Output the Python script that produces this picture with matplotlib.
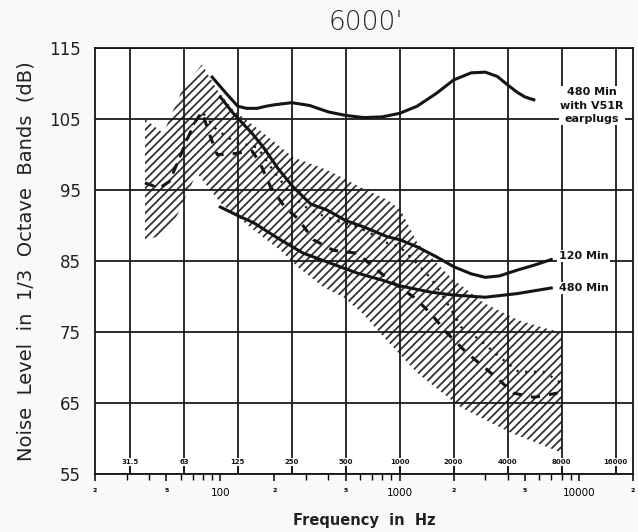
import matplotlib
matplotlib.use("Agg")
import matplotlib.pyplot as plt
import numpy as np

# ---- data ----
octave_freqs = [31.5, 63, 125, 250, 500, 1000, 2000, 4000, 8000, 16000]
octave_labels = ["31.5", "63", "125", "250", "500", "1000", "2000", "4000", "8000", "16000"]
y_ticks = [55, 65, 75, 85, 95, 105, 115]

# hatched range (upper edge left->right, lower edge right->left)
band_upper_f = [38, 48, 62, 79, 96, 118, 174, 255, 361, 427, 604, 856, 1012, 1258, 1924, 2945, 4556, 6966, 8000]
band_upper_db = [105, 103, 109.4, 112.7, 109.1, 106.3, 103, 99.6, 98.2, 97.4, 95.4, 93.6, 92.2, 87.5, 82.7, 79.1, 76.7, 75.3, 75]
band_lower_f = [8000, 4163, 2188, 1258, 813, 628, 486, 376, 269, 216, 153, 100, 74, 54, 46, 38]
band_lower_db = [58, 60.8, 64.4, 69.2, 74.3, 77.5, 79.9, 81.3, 84.2, 86.5, 89.4, 93.2, 97.4, 90, 88.5, 88]

# 480 min with V51R earplugs
plug_f = [90, 107, 125, 140, 160, 180, 200, 250, 315, 400, 500, 630, 800, 1000, 1250, 1600, 2000, 2500, 3000, 3500, 4000, 4500, 5000, 5600]
plug_db = [110.9, 108.7, 106.8, 106.5, 106.5, 106.8, 107.0, 107.3, 106.9, 106.0, 105.5, 105.2, 105.3, 105.8, 106.8, 108.6, 110.5, 111.5, 111.6, 111.0, 109.8, 108.8, 108.1, 107.7]

# 120 min
m120_f = [100, 118, 150, 174, 210, 255, 320, 392, 500, 630, 856, 1000, 1250, 1600, 2000, 2500, 3000, 3600, 4500, 5600, 7000]
m120_db = [108.1, 105.8, 103, 101, 98, 95.4, 93, 92.2, 90.7, 89.8, 88.4, 88, 87, 85.6, 84.2, 83.2, 82.7, 82.9, 83.7, 84.4, 85.2]

# 480 min
m480_f = [100, 125, 153, 216, 290, 410, 580, 800, 1000, 1500, 2000, 3000, 4500, 7000]
m480_db = [92.6, 91.4, 90.4, 88, 86.1, 84.7, 83.3, 82.3, 81.5, 80.6, 80.2, 79.9, 80.4, 81.2]

# measured spectra (dashed and dotted)
dash_f = [38, 42, 46, 52, 58, 65, 72, 79, 88, 96, 110, 125, 150, 165, 190, 230, 270, 330, 427, 580, 750, 924, 1200, 1480, 1830, 2380, 2940, 3600, 4300, 5600, 7600]
dash_db = [96, 95.6, 95.3, 96.2, 99, 102, 104.5, 106, 102.5, 100, 100, 100.2, 100.5, 99, 95.5, 92.5, 91, 88, 86.5, 86.1, 83.7, 81.9, 79.9, 77.7, 74.9, 72, 70.1, 68.2, 66.4, 65.8, 66.4]
dot_f = [38, 42, 46, 52, 58, 65, 72, 79, 95, 120, 161, 200, 255, 300, 340, 427, 580, 690, 856, 1000, 1200, 1500, 1800, 2200, 2800, 3600, 4600, 6300, 7600, 8000]
dot_db = [96, 95.6, 95.3, 96.2, 99, 102, 104.5, 106, 103.5, 101.8, 101, 97.5, 94, 92.6, 91.8, 90.8, 89.8, 88.9, 87.5, 87, 85.1, 82.5, 79.5, 75.7, 73.9, 71.5, 69.4, 69.4, 68.2, 67.5]

plt.rcParams['hatch.linewidth'] = 1.3
plt.rcParams['hatch.color'] = '#333333'

fig = plt.figure(figsize=(6.38, 5.32), dpi=100, facecolor='#f9f9f7')
ax = fig.add_axes([95/638, 58/532, 538/638, 426/532])
ax.set_facecolor('white')
ax.set_xscale('log')
ax.set_xlim(20, 20000)
ax.set_ylim(55, 115)

# hatched band
ax.fill(band_upper_f + band_lower_f, band_upper_db + band_lower_db,
        facecolor='none', edgecolor='#333333', hatch='////', linewidth=0, zorder=1)

# grid at octave centres and every 10 dB
for f in octave_freqs:
    ax.axvline(f, color='#1a1a1a', lw=1.3, zorder=2)
for y in y_ticks:
    ax.axhline(y, color='#1a1a1a', lw=1.3, zorder=2)

ax.plot(plug_f, plug_db, color='#151515', lw=2.2, zorder=4)
ax.plot(m120_f, m120_db, color='#151515', lw=2.2, zorder=4)
ax.plot(m480_f, m480_db, color='#151515', lw=2.2, zorder=4)
ax.plot(dash_f, dash_db, color='#151515', lw=2.2, ls=(0, (3, 3)), zorder=4)
ax.plot(dot_f, dot_db, color='#151515', lw=1.6, ls=(0, (1, 3)), zorder=4)

lbl = dict(fontsize=8, fontweight='bold', color='#151515', zorder=6,
           bbox=dict(facecolor='white', edgecolor='none', pad=1.0))
ax.text(11800, 106.9, "480 Min\nwith V51R\nearplugs", ha='center', va='center', linespacing=1.45, **lbl)
ax.text(7700, 85.7, "120 Min", ha='left', va='center', **lbl)
ax.text(7700, 81.2, "480 Min", ha='left', va='center', **lbl)

# octave labels inside the frame
for f, s in zip(octave_freqs, octave_labels):
    ax.text(f, 56.7, s, ha='center', va='center', fontsize=5, fontweight='bold',
            color='#151515', zorder=6, bbox=dict(facecolor='white', edgecolor='none', pad=0.6))
sec = ax.secondary_xaxis('bottom')
sec.set_xticks(octave_freqs)
sec.set_xticklabels([])
sec.tick_params(direction='in', length=8, width=1.2, color='#151515')
sec.xaxis.set_minor_locator(matplotlib.ticker.NullLocator())
sec.spines['bottom'].set_visible(False)

# decade ticks below the axis
major = [20, 50, 100, 200, 500, 1000, 2000, 5000, 10000, 20000]
major_lbl = ["2", "5", "100", "2", "5", "1000", "2", "5", "10000", "2"]
minor = [30, 40, 60, 70, 80, 90, 300, 400, 600, 700, 800, 900, 3000, 4000, 6000, 7000, 8000, 9000]
ax.set_xticks(major)
ax.set_xticklabels(major_lbl)
ax.set_xticks(minor, minor=True)
ax.tick_params(axis='x', which='major', direction='out', length=5, width=1.1, pad=5, labelsize=7.5)
ax.tick_params(axis='x', which='minor', direction='out', length=4, width=1.0, labelbottom=False)
for t, s in zip(ax.get_xticklabels(), major_lbl):
    if len(s) == 1:
        t.set_fontsize(4.5)
        t.set_fontweight('bold')

ax.set_yticks(y_ticks)
ax.set_yticklabels([str(v) for v in y_ticks])
ax.tick_params(axis='y', length=0, pad=10, labelsize=12, labelcolor='#222222')

for sp in ax.spines.values():
    sp.set_linewidth(1.3)
    sp.set_color('#151515')

ax.set_xlabel("Frequency  in  Hz", fontsize=10.5, fontweight='bold', color='#222222', labelpad=11)
ax.set_ylabel("Noise  Level  in  1/3  Octave  Bands  (dB)", fontsize=14, fontweight='medium',
              color='#222222', labelpad=10)
fig.text(0.573, 0.957, "6000'", ha='center', va='center', fontsize=19, fontweight='light', color='#222222')

fig.savefig("out.png", dpi=100, facecolor=fig.get_facecolor())
